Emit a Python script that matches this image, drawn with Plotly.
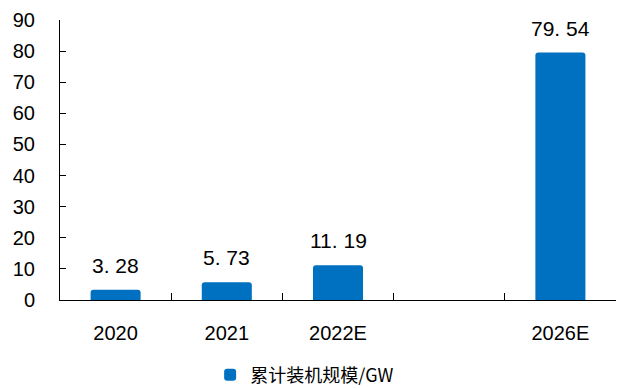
import plotly.graph_objects as go

categories = ["2020", "2021", "2022E", " ", "2026E"]
values = [3.28, 5.73, 11.19, None, 79.54]
labels = ["3. 28", "5. 73", "11. 19", "", "79. 54"]
series_name = "累计装机规模/GW"
y_ticks = [0, 10, 20, 30, 40, 50, 60, 70, 80, 90]

fig = go.Figure()
fig.add_trace(go.Bar(
    x=categories, y=values, name=series_name,
    marker=dict(color="#0070C0", line=dict(width=0), cornerradius=3),
    showlegend=True,
))

for i, (v, t) in enumerate(zip(values, labels)):
    if v is None:
        continue
    fig.add_annotation(x=i, y=v, xref="x", yref="y", text=t, showarrow=False,
                       yanchor="bottom", yshift=11,
                       font=dict(family="Liberation Sans", size=21, color="#000"))

fig.update_layout(
    width=620, height=389,
    margin=dict(l=60, r=4, t=20, b=89, autoexpand=False),
    paper_bgcolor="white", plot_bgcolor="white",
    bargap=0.55,
    font=dict(family="Liberation Sans", color="#000"),
    legend=dict(orientation="h", x=0.44, xanchor="center",
                yref="container", y=0.036, yanchor="middle",
                font=dict(family="Noto Sans CJK SC", size=18, color="#000"),
                itemwidth=30),
    xaxis=dict(type="category", categoryorder="array", categoryarray=categories,
               range=[-0.5, 4.5], showline=True, linecolor="#000", linewidth=1,
               ticks="inside", tickson="boundaries", ticklen=7, tickcolor="#000",
               tickfont=dict(size=20, family="Liberation Sans"), ticklabelstandoff=15,
               showgrid=False, zeroline=False, automargin=False),
    yaxis=dict(range=[0, 90], tickvals=y_ticks, showline=True, linecolor="#000", linewidth=1,
               ticks="inside", ticklen=6, tickcolor="#000",
               tickfont=dict(size=20, family="Liberation Sans"), ticklabelstandoff=20,
               showgrid=False, zeroline=False, automargin=False),
)

fig.write_html("out.html")
